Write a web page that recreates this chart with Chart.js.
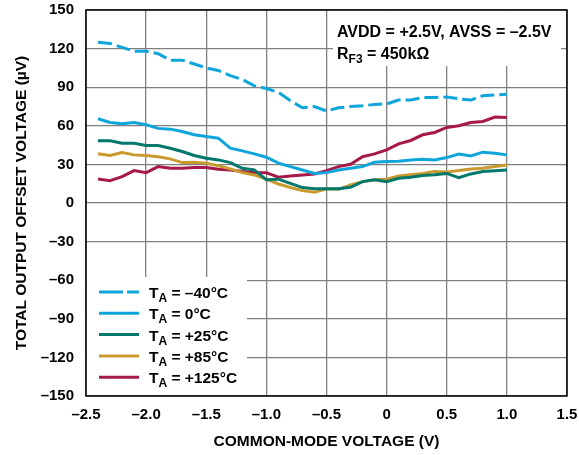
<!DOCTYPE html>
<html>
<head>
<meta charset="utf-8">
<script src="https://cdn.jsdelivr.net/npm/chart.js@4/dist/chart.umd.min.js"></script>
<style>
  body { margin: 0; background: #fff; }
</style>
</head>
<body>
<canvas id="offsetChart" width="579" height="455"></canvas>
<script>
// common-mode voltage sweep (V)
const vcm = [-2.4, -2.3, -2.2, -2.1, -2.0, -1.9, -1.8, -1.7, -1.6, -1.5, -1.4, -1.3, -1.2, -1.1, -1.0,
  -0.9, -0.8, -0.7, -0.6, -0.5, -0.4, -0.3, -0.2, -0.1, 0, 0.1, 0.2, 0.3, 0.4, 0.5, 0.6, 0.7, 0.8, 0.9, 1.0];

// total output offset voltage (µV) per temperature
const tMinus40 = [125, 124, 121, 118, 118, 116, 111, 111, 108, 105, 103, 99, 96, 91, 89,
  86, 79.5, 74, 75, 71.5, 74, 75, 75.6, 76.6, 77, 80, 80, 82, 82, 82.4, 81, 80, 83.4, 84, 84.5];
const t0 = [65.5, 62.6, 61.6, 62.6, 60.8, 58, 57.4, 55.6, 53, 51.7, 50.4, 42.6, 40.5, 38.2, 35.6,
  31, 28.3, 25.7, 23, 23.6, 25.7, 27, 28.3, 31.7, 32.2, 32.5, 33.5, 34, 33.5, 35.3, 38, 36.6, 39.5, 38.7, 37.4];
const t25 = [48.3, 48.3, 46.5, 46.5, 44.7, 44.7, 42.6, 40, 36.9, 34.8, 33.5, 31.4, 27, 25.7, 18,
  18.5, 15.3, 12, 11, 11, 11, 12.2, 16.6, 18, 16.6, 19.2, 20, 21.3, 22, 23, 19.7, 22.6, 24.4, 25, 25.7];
const t85 = [38.2, 36.9, 39.2, 37.4, 36.9, 36, 34.3, 31.4, 31.7, 31, 29, 26.5, 23.6, 21.8, 18.5,
  14.8, 12, 9.6, 8.3, 11, 10.6, 14, 16.6, 18, 18.5, 21, 22, 23, 24.4, 24, 25.2, 26.5, 27, 28.3, 29.6];
const t125 = [18.7, 17.4, 20.5, 25.2, 23.6, 28.3, 27, 27, 27.5, 27.5, 26.2, 25.7, 24.4, 23.6, 23.6,
  20, 21, 21.8, 22.6, 25.2, 28.3, 30.1, 36, 38.2, 41.3, 46, 48.6, 53, 54.8, 58.7, 60, 62.6, 63.4, 66.8, 66.5];

const seriesNames = ['–40°C', '0°C', '+25°C', '+85°C', '+125°C'];
const seriesData = [tMinus40, t0, t25, t85, t125];
const seriesColors = ['#0ea5db', '#0ea5db', '#00786c', '#c99a2e', '#a6194a'];
const seriesDash = [[14, 5], [], [], [], []];

const xTicks = [-2.5, -2.0, -1.5, -1.0, -0.5, 0, 0.5, 1.0, 1.5];
const yTicks = [-150, -120, -90, -60, -30, 0, 30, 60, 90, 120, 150];

const FONT = '"Liberation Sans", Arial, sans-serif';
const dash = s => String(s).replace('-', '–');

// draws "main" with a subscript, then the rest
function subText(ctx, x, y, main, sub, rest, size) {
  ctx.font = 'bold ' + size + 'px ' + FONT;
  ctx.fillText(main, x, y);
  x += ctx.measureText(main).width;
  ctx.font = 'bold ' + Math.round(size * 0.78) + 'px ' + FONT;
  ctx.fillText(sub, x, y + 4);
  x += ctx.measureText(sub).width;
  ctx.font = 'bold ' + size + 'px ' + FONT;
  ctx.fillText(rest, x, y);
}

const boxes = {
  id: 'boxes',
  beforeDatasetsDraw(chart) {
    const ctx = chart.ctx;
    ctx.save();
    ctx.fillStyle = '#fff';
    // conditions box, top right
    ctx.fillRect(333, 11, 228, 55);
    // legend box, bottom left
    ctx.fillRect(87, 277, 160, 118);

    ctx.fillStyle = '#000';
    ctx.textBaseline = 'alphabetic';
    ctx.font = 'bold 16px ' + FONT;
    ctx.fillText('AVDD = +2.5V, AVSS = –2.5V', 337, 37);
    subText(ctx, 337, 59, 'R', 'F3', ' = 450kΩ', 16);

    seriesNames.forEach((name, i) => {
      const y = 292 + i * 21.3;
      ctx.strokeStyle = seriesColors[i];
      ctx.lineWidth = 3;
      ctx.setLineDash(i === 0 ? [24, 4] : []);
      ctx.beginPath();
      ctx.moveTo(99, y);
      ctx.lineTo(139, y);
      ctx.stroke();
      ctx.setLineDash([]);
      ctx.fillStyle = '#000';
      subText(ctx, 149, y + 6, 'T', 'A', ' = ' + name, 15.5);
    });
    ctx.restore();
  },
  afterDraw(chart) {
    const a = chart.chartArea;
    const ctx = chart.ctx;
    ctx.save();
    ctx.strokeStyle = '#000';
    ctx.lineWidth = 1.5;
    ctx.strokeRect(a.left, a.top, a.right - a.left, a.bottom - a.top);
    ctx.restore();
  }
};

new Chart(document.getElementById('offsetChart'), {
  type: 'line',
  data: {
    datasets: seriesData.map((vals, i) => ({
      label: 'TA = ' + seriesNames[i],
      data: vals.map((v, j) => ({ x: vcm[j], y: v })),
      borderColor: seriesColors[i],
      borderWidth: 3,
      borderDash: seriesDash[i],
      pointRadius: 0,
      tension: 0,
      fill: false
    }))
  },
  options: {
    responsive: false,
    animation: false,
    devicePixelRatio: 1,
    layout: { padding: { top: 10, right: 12, left: 0, bottom: 0 } },
    plugins: { legend: { display: false }, tooltip: { enabled: false } },
    scales: {
      x: {
        type: 'linear',
        min: -2.5,
        max: 1.5,
        afterFit: s => { s.height = 59; s.paddingLeft = 0; s.paddingRight = 0; },
        afterBuildTicks: s => { s.ticks = xTicks.map(v => ({ value: v })); },
        grid: { color: '#808080', lineWidth: 1.3, drawTicks: false },
        border: { display: false },
        ticks: {
          padding: 10,
          color: '#000',
          font: { family: FONT, size: 15, weight: 'bold' },
          callback: v => v === 0 ? '0' : dash(v.toFixed(1))
        },
        title: {
          display: true,
          text: 'COMMON-MODE VOLTAGE (V)',
          color: '#000',
          padding: { bottom: 4 },
          font: { family: FONT, size: 15.5, weight: 'bold' }
        }
      },
      y: {
        min: -150,
        max: 150,
        afterFit: s => { s.width = 86; s.paddingTop = 0; s.paddingBottom = 0; },
        afterBuildTicks: s => { s.ticks = yTicks.map(v => ({ value: v })); },
        grid: { color: '#808080', lineWidth: 1.3, drawTicks: false },
        border: { display: false },
        ticks: {
          padding: 12,
          color: '#000',
          font: { family: FONT, size: 15, weight: 'bold' },
          callback: v => dash(v)
        },
        title: {
          display: true,
          text: 'TOTAL OUTPUT OFFSET VOLTAGE (µV)',
          color: '#000',
          padding: { top: 12 },
          font: { family: FONT, size: 15.5, weight: 'bold' }
        }
      }
    }
  },
  plugins: [boxes]
});
</script>
</body>
</html>
